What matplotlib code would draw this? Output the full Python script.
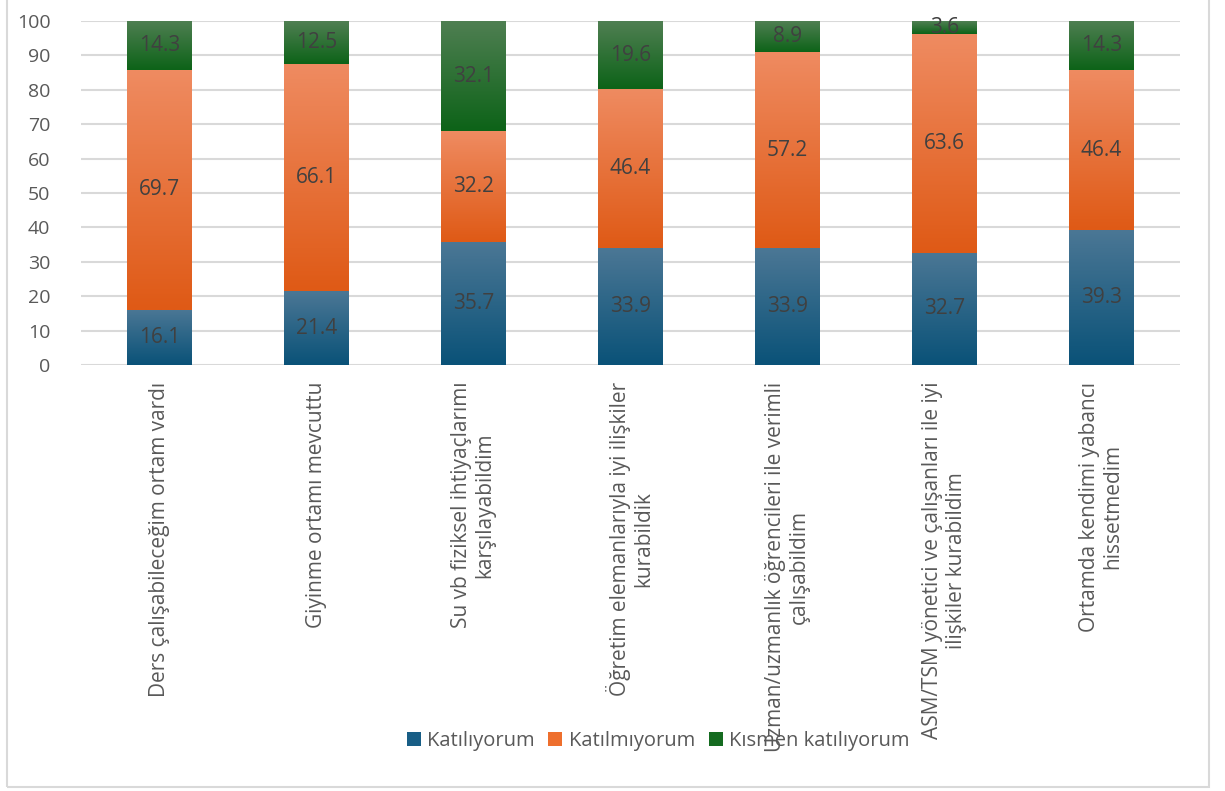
import matplotlib
matplotlib.use("Agg")
import matplotlib.pyplot as plt
import numpy as np
from matplotlib.colors import LinearSegmentedColormap
from matplotlib.patches import Rectangle

plt.rcParams['font.family'] = ['Open Sans', 'DejaVu Sans']

categories = [
    "Ders çalışabileceğim ortam vardı",
    "Giyinme ortamı mevcuttu",
    "Su vb fiziksel ihtiyaçlarımı\nkarşılayabildim",
    "Öğretim elemanlarıyla iyi ilişkiler\nkurabildik",
    "Uzman/uzmanlık öğrencileri ile verimli\nçalışabildim",
    "ASM/TSM yönetici ve çalışanları ile iyi\nilişkiler kurabildim",
    "Ortamda kendimi yabancı\nhissetmedim",
]
series_names = ["Katılıyorum", "Katılmıyorum", "Kısmen katılıyorum"]
katiliyorum = [16.1, 21.4, 35.7, 33.9, 33.9, 32.7, 39.3]
katilmiyorum = [69.7, 66.1, 32.2, 46.4, 57.2, 63.6, 46.4]
kismen = [14.3, 12.5, 32.1, 19.6, 8.9, 3.6, 14.3]
yticks = [0, 10, 20, 30, 40, 50, 60, 70, 80, 90, 100]

series = [katiliyorum, katilmiyorum, kismen]
grad = [("#4b7795", "#0a5278"), ("#ef8b61", "#df5a16"), ("#4f7f52", "#0d6318")]
solid = ["#185e86", "#ee6f2d", "#156b20"]

W, H = 1225, 791
fig = plt.figure(figsize=(W / 100, H / 100), dpi=100)
fig.patch.set_facecolor("white")

# outer chart border
fig.add_artist(Rectangle((6.5 / W, 1 - 787 / H), (1209 - 6.5) / W, 800 / H,
                         transform=fig.transFigure, fill=False,
                         edgecolor="#d9d9d9", linewidth=1.5))

ax = fig.add_axes([81 / W, 1 - 365 / H, (1180 - 81) / W, (365 - 21) / H])
ax.set_facecolor("white")
x = np.arange(len(categories))
for s in ax.spines.values():
    s.set_visible(False)
ax.set_yticks(yticks)
ax.yaxis.grid(True, color="#d9d9d9", linewidth=1.5)
ax.set_axisbelow(True)
ax.tick_params(axis="y", length=0, pad=22, labelsize=14, labelcolor="#595959")
ax.tick_params(axis="x", length=0, pad=12, labelsize=15, labelcolor="#595959")
ax.set_xticks(x)
ax.set_xticklabels(categories, rotation=90, ha="center", va="top",
                   multialignment="center", linespacing=1.15)

bottom = np.zeros(len(categories))
bw = 0.41
for vals, (ctop, cbot), sc, name in zip(series, grad, solid, series_names):
    vals = np.array(vals)
    bars = ax.bar(x, vals, bw, bottom=bottom, color=sc, label=name,
                  linewidth=0, zorder=2)
    cmap = LinearSegmentedColormap.from_list("g", [cbot, ctop])
    for b in bars:
        x0, y0 = b.get_x(), b.get_y()
        w, h = b.get_width(), b.get_height()
        im = ax.imshow(np.linspace(0, 1, 100).reshape(-1, 1), cmap=cmap,
                       aspect="auto", origin="lower",
                       extent=[x0, x0 + w, y0, y0 + h], zorder=2.5)
        im.set_clip_path(b)
    for xi, v, bt in zip(x, vals, bottom):
        yc = bt + v / 2
        if bt + v > 100:
            yc = bt + (100 - bt) / 2
        ax.text(xi, yc, f"{v:.1f}", ha="center", va="center",
                fontsize=15, color="#404040", zorder=4)
    bottom = bottom + vals

ax.set_xlim(-0.5, len(categories) - 0.5)
ax.set_ylim(0, 100)

fig.legend(loc="center", bbox_to_anchor=(658 / W, 1 - 741 / H), ncol=3,
           frameon=False, fontsize=14.5, handlelength=0.7, handleheight=0.7,
           handletextpad=0.3, columnspacing=0.7, labelcolor="#595959")

fig.savefig("out.png", dpi=100, facecolor="white")
